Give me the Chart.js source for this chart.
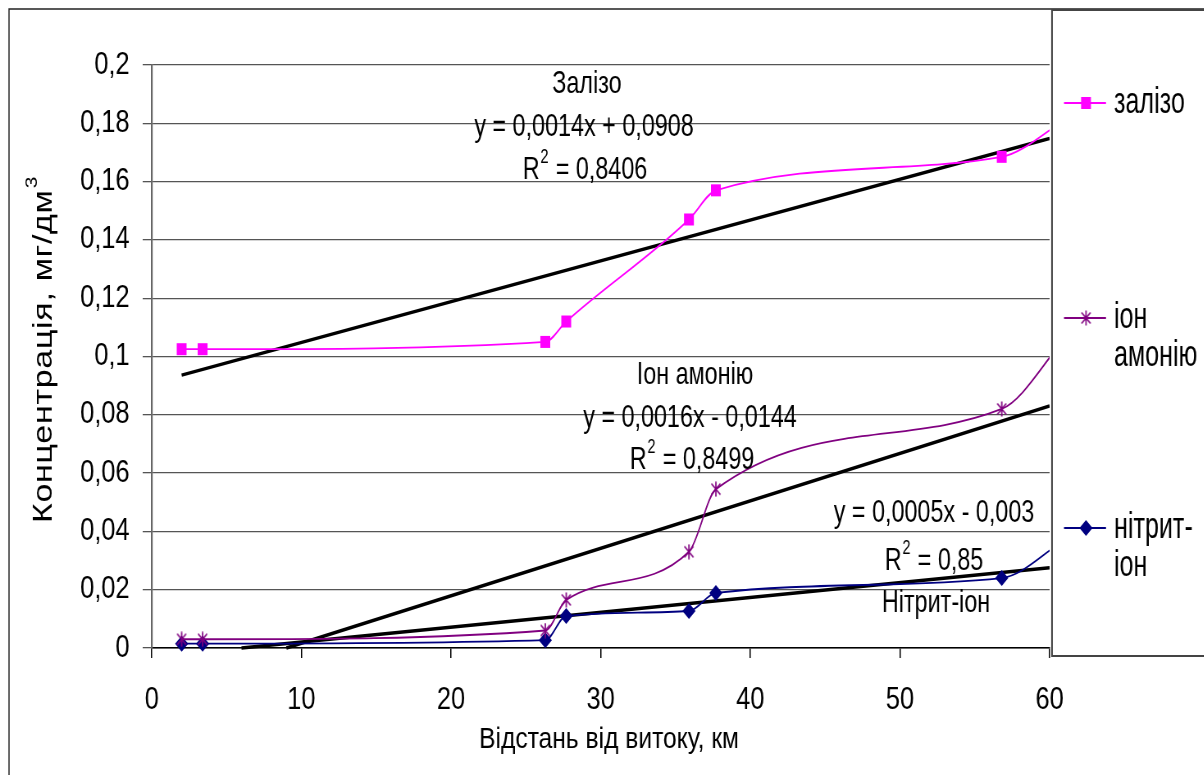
<!DOCTYPE html>
<html>
<head>
<meta charset="utf-8">
<script src="https://cdn.jsdelivr.net/npm/chart.js@4.4.1/dist/chart.umd.min.js"></script>
<style>
  html, body { margin: 0; padding: 0; background: #fff; overflow: hidden; }
  #page { width: 1204px; height: 775px; overflow: hidden; position: relative; }
  /* the source picture is squeezed sideways, so draw wide and squeeze */
  #wrap { width: 1468px; height: 775px; transform: scaleX(0.82); transform-origin: 0 0; }
</style>
</head>
<body>
<div id="page"><div id="wrap"><canvas id="chart" width="1468" height="775"></canvas></div></div>
<script>
// distance from the source, km (last point lies past the axis end and is clipped)
const distKm = [2, 3.4, 26.3, 27.7, 35.9, 37.7, 56.8, 61];
const iron = [0.1025, 0.1025, 0.105, 0.112, 0.147, 0.157, 0.1685, 0.181];
const ammonium = [0.003, 0.003, 0.006, 0.0165, 0.033, 0.0545, 0.082, 0.106];
const nitrite = [0.0015, 0.0015, 0.0027, 0.011, 0.0127, 0.0189, 0.024, 0.037];

// trend lines, end points
const ironTrendX = [2, 60];
const ironTrendY = [0.0936, 0.1748];
const ammTrendX = [9, 60];
const ammTrendY = [0, 0.083];
const nitTrendX = [6, 60];
const nitTrendY = [0, 0.0275];

const xTicks = [0, 10, 20, 30, 40, 50, 60];
const yTicks = [0, 0.02, 0.04, 0.06, 0.08, 0.1, 0.12, 0.14, 0.16, 0.18, 0.2];

const seriesNames = ['залізо', 'іон амонію', 'нітрит-іон'];

const K = 0.82;   // horizontal squeeze
const FONT = "'Liberation Sans', Arial, sans-serif";

function wx(x) { return x / K; }

function pairs(xs, ys) {
  return xs.map((x, i) => ({x: x, y: ys[i]}));
}

function starMarker(color) {
  const c = document.createElement('canvas');
  c.width = 16; c.height = 16;
  const g = c.getContext('2d');
  g.strokeStyle = color;
  g.lineWidth = 1.7;
  g.beginPath();
  g.moveTo(2.5, 2.5); g.lineTo(13.5, 13.5);
  g.moveTo(13.5, 2.5); g.lineTo(2.5, 13.5);
  g.moveTo(8, 0.5); g.lineTo(8, 15.5);
  g.stroke();
  return c;
}
const star = starMarker('#800080');

function hideOutside(ctx) {
  return ctx.raw && ctx.raw.x > 60 ? 0 : undefined;
}

// text squeezed a bit more than the rest
function label(ctx, text, cx, cy, size, sx) {
  ctx.save();
  ctx.translate(wx(cx), cy);
  ctx.scale(sx, 1);
  ctx.font = size + 'px ' + FONT;
  ctx.textAlign = 'center';
  ctx.textBaseline = 'middle';
  ctx.fillText(text, 0, 0);
  ctx.restore();
}

function labelR2(ctx, rest, cx, cy, size, sx) {
  ctx.save();
  ctx.translate(wx(cx), cy);
  ctx.scale(sx, 1);
  const small = Math.round(size * 0.62);
  ctx.font = size + 'px ' + FONT;
  const w1 = ctx.measureText('R').width;
  const w3 = ctx.measureText(rest).width;
  ctx.font = small + 'px ' + FONT;
  const w2 = ctx.measureText('2').width + 2;
  let x = -(w1 + w2 + w3) / 2;
  ctx.textAlign = 'left';
  ctx.textBaseline = 'middle';
  ctx.font = size + 'px ' + FONT;
  ctx.fillText('R', x, 0);
  ctx.font = small + 'px ' + FONT;
  ctx.fillText('2', x + w1 + 1, -size * 0.4);
  ctx.font = size + 'px ' + FONT;
  ctx.fillText(rest, x + w1 + w2, 0);
  ctx.restore();
}

const decorPlugin = {
  id: 'decor',
  afterDraw(chart) {
    const ctx = chart.ctx;
    ctx.save();
    // outer frame
    ctx.strokeStyle = '#222';
    ctx.lineWidth = 1.5;
    ctx.beginPath();
    ctx.moveTo(wx(9), 780); ctx.lineTo(wx(9), 9); ctx.lineTo(1500, 9);
    ctx.stroke();
    // legend box
    ctx.strokeStyle = '#444';
    ctx.lineWidth = 2;
    ctx.strokeRect(wx(1052), 10, 250, 646);

    ctx.fillStyle = '#000';
    // y title, letters slightly spaced
    ctx.save();
    ctx.translate(wx(44), 350);
    ctx.rotate(-Math.PI / 2);
    ctx.letterSpacing = '0.7px';
    ctx.font = '34px ' + FONT;
    const tMain = 'Концентрація, мг/дм';
    const wMain = ctx.measureText(tMain).width;
    ctx.font = '21px ' + FONT;
    const wSup = ctx.measureText('3').width;
    ctx.textBaseline = 'middle';
    ctx.textAlign = 'left';
    ctx.font = '34px ' + FONT;
    const x0 = -(wMain + wSup) / 2;
    ctx.fillText(tMain, x0, 0);
    ctx.font = '21px ' + FONT;
    ctx.fillText('3', x0 + wMain + 1, -14);
    ctx.restore();

    // x title
    label(ctx, 'Відстань від витоку, км', 609, 740, 30, 1);

    // trend annotations
    const s = 32, sx = 0.89;
    label(ctx, 'Залізо', 587, 84, s, sx);
    label(ctx, 'y = 0,0014x + 0,0908', 584, 127, s, sx);
    labelR2(ctx, ' = 0,8406', 585, 170, s, sx);
    label(ctx, 'Іон амонію', 695, 375, s, sx);
    label(ctx, 'y = 0,0016x - 0,0144', 690, 418, s, sx);
    labelR2(ctx, ' = 0,8499', 692, 460, s, sx);
    label(ctx, 'y = 0,0005x - 0,003', 934, 513, s, sx);
    labelR2(ctx, ' = 0,85', 934, 561, s, sx);
    label(ctx, 'Нітрит-іон', 936, 603, s, sx);

    // legend
    const items = [
      {y: 103, lines: ['залізо'], ds: 0},
      {y: 318, lines: ['іон', 'амонію'], ds: 1},
      {y: 528, lines: ['нітрит-', 'іон'], ds: 2}
    ];
    items.forEach(it => {
      const ds = chart.data.datasets[it.ds];
      ctx.strokeStyle = ds.borderColor;
      ctx.fillStyle = ds.borderColor;
      ctx.lineWidth = 2;
      ctx.beginPath();
      ctx.moveTo(wx(1064), it.y); ctx.lineTo(wx(1106), it.y);
      ctx.stroke();
      Chart.helpers.drawPoint(ctx, {
        pointStyle: ds.pointStyle, radius: ds.pointRadius, rotation: 0, borderWidth: 0
      }, wx(1086), it.y);
      ctx.save();
      ctx.translate(wx(1114), 0);
      ctx.scale(0.85, 1);
      ctx.fillStyle = '#000';
      ctx.font = '36px ' + FONT;
      ctx.textAlign = 'left';
      ctx.textBaseline = 'middle';
      it.lines.forEach((t, k) => ctx.fillText(t, 0, it.y + k * 38));
      ctx.restore();
    });
    ctx.restore();
  }
};

new Chart(document.getElementById('chart'), {
  type: 'line',
  data: {
    datasets: [{
      label: seriesNames[0],
      data: pairs(distKm, iron),
      borderColor: '#FF00FF',
      backgroundColor: '#FF00FF',
      borderWidth: 1.8,
      pointStyle: 'rect',
      pointRadius: 8.5,
      pointBorderWidth: 0,
      cubicInterpolationMode: 'monotone'
    }, {
      label: seriesNames[1],
      data: pairs(distKm, ammonium),
      borderColor: '#800080',
      backgroundColor: '#800080',
      borderWidth: 1.8,
      pointStyle: star,
      pointRadius: 8,
      cubicInterpolationMode: 'monotone'
    }, {
      label: seriesNames[2],
      data: pairs(distKm, nitrite),
      borderColor: '#000080',
      backgroundColor: '#000080',
      borderWidth: 1.8,
      pointStyle: 'rectRot',
      pointRadius: 8,
      pointBorderWidth: 0,
      cubicInterpolationMode: 'monotone'
    }, {
      label: 'trend iron',
      data: pairs(ironTrendX, ironTrendY),
      borderColor: '#000', borderWidth: 3.5, pointRadius: 0, tension: 0
    }, {
      label: 'trend ammonium',
      data: pairs(ammTrendX, ammTrendY),
      borderColor: '#000', borderWidth: 3.5, pointRadius: 0, tension: 0
    }, {
      label: 'trend nitrite',
      data: pairs(nitTrendX, nitTrendY),
      borderColor: '#000', borderWidth: 3.5, pointRadius: 0, tension: 0
    }]
  },
  options: {
    responsive: false,
    animation: false,
    layout: { padding: { top: 65, right: 188, left: 0, bottom: 0 } },
    elements: { point: { radius: hideOutside, hoverRadius: 0 } },
    datasets: { line: { clip: { left: 0, right: 0, top: 10, bottom: 10 } } },
    plugins: { legend: { display: false }, tooltip: { enabled: false } },
    scales: {
      x: {
        type: 'linear', min: 0, max: 60,
        afterBuildTicks: s => { s.ticks = xTicks.map(v => ({value: v})); },
        afterFit: s => { s.height = 127; },
        ticks: {
          font: { size: 31, family: FONT }, color: '#000', padding: 24,
          maxRotation: 0, callback: v => String(v)
        },
        grid: { drawOnChartArea: false, tickLength: 10, color: '#000', lineWidth: 1.5 },
        border: { color: '#000', width: 1.5 }
      },
      y: {
        type: 'linear', min: 0, max: 0.2,
        afterBuildTicks: s => { s.ticks = yTicks.map(v => ({value: v})); },
        afterFit: s => { s.width = 185; },
        ticks: {
          font: { size: 31, family: FONT }, color: '#000', padding: 16,
          callback: v => String(Math.round(v * 100) / 100).replace('.', ',')
        },
        grid: { color: '#555', lineWidth: 1.3, tickLength: 11 },
        border: { color: '#666', width: 2.2 }
      }
    }
  },
  plugins: [decorPlugin]
});
</script>
</body>
</html>
